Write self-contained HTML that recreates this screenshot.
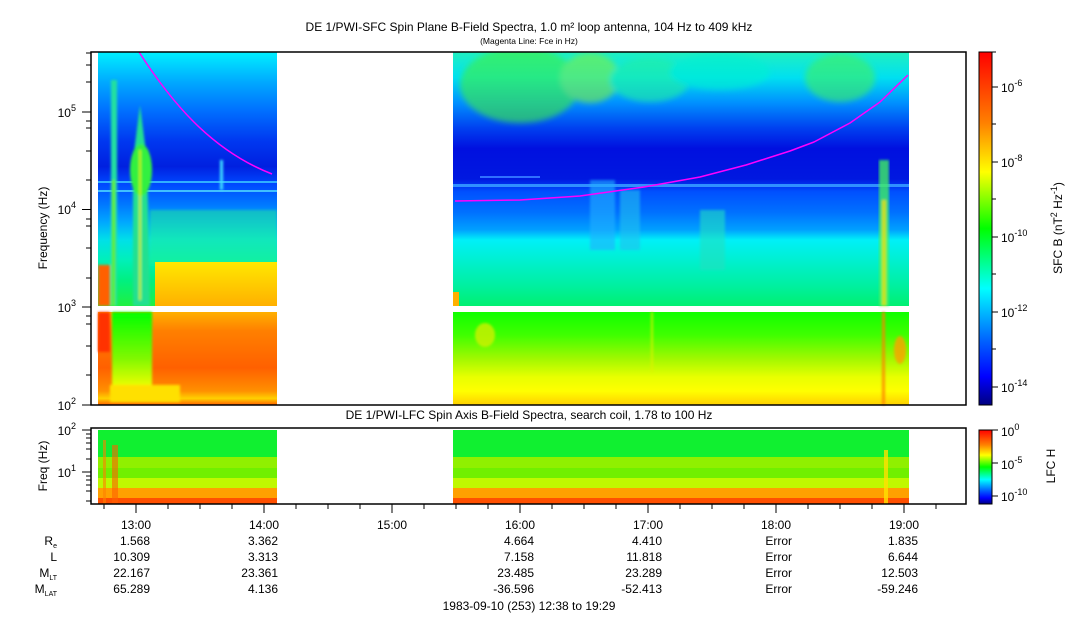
<!DOCTYPE html>
<html><head><meta charset="utf-8"><style>
html,body{margin:0;padding:0;background:#fff}
svg{display:block}
text{font-family:"Liberation Sans",sans-serif;fill:#000}
</style></head><body>
<svg width="1083" height="620" viewBox="0 0 1083 620" xmlns="http://www.w3.org/2000/svg">
<defs>
<linearGradient id="lu" x1="0" y1="52" x2="0" y2="306" gradientUnits="userSpaceOnUse">
<stop offset="0" stop-color="#00f0ff"/><stop offset="0.04" stop-color="#00d8ff"/>
<stop offset="0.12" stop-color="#00a8ff"/><stop offset="0.23" stop-color="#0070ff"/>
<stop offset="0.35" stop-color="#0038f0"/><stop offset="0.45" stop-color="#0020e0"/>
<stop offset="0.52" stop-color="#0048ff"/><stop offset="0.6" stop-color="#0078ff"/>
<stop offset="0.67" stop-color="#00a8ff"/><stop offset="0.74" stop-color="#00e0e8"/>
<stop offset="0.82" stop-color="#00f0b8"/><stop offset="0.9" stop-color="#00f080"/>
<stop offset="1" stop-color="#20f040"/></linearGradient>
<linearGradient id="ru" x1="0" y1="52" x2="0" y2="306" gradientUnits="userSpaceOnUse">
<stop offset="0" stop-color="#20f0c0"/><stop offset="0.1" stop-color="#00e0f0"/>
<stop offset="0.2" stop-color="#0090ff"/><stop offset="0.3" stop-color="#0040f0"/>
<stop offset="0.38" stop-color="#0010e0"/><stop offset="0.5" stop-color="#0018e0"/>
<stop offset="0.55" stop-color="#0050ff"/><stop offset="0.63" stop-color="#0070ff"/>
<stop offset="0.7" stop-color="#00a0ff"/><stop offset="0.74" stop-color="#00f0f8"/>
<stop offset="0.82" stop-color="#00f0d0"/><stop offset="0.92" stop-color="#00f0a0"/>
<stop offset="1" stop-color="#00f070"/></linearGradient>
<linearGradient id="rl" x1="0" y1="312" x2="0" y2="405" gradientUnits="userSpaceOnUse">
<stop offset="0" stop-color="#10ff00"/><stop offset="0.25" stop-color="#40ff00"/>
<stop offset="0.5" stop-color="#a0f800"/><stop offset="0.7" stop-color="#e8ff00"/>
<stop offset="0.85" stop-color="#ffff00"/><stop offset="1" stop-color="#ffd000"/></linearGradient>
<linearGradient id="ll" x1="0" y1="312" x2="0" y2="405" gradientUnits="userSpaceOnUse">
<stop offset="0" stop-color="#ffb000"/><stop offset="0.2" stop-color="#ff8000"/>
<stop offset="0.6" stop-color="#ff6000"/><stop offset="0.85" stop-color="#ff9000"/>
<stop offset="0.93" stop-color="#ffd000"/><stop offset="1" stop-color="#ff6000"/></linearGradient>
<linearGradient id="lg" x1="0" y1="312" x2="0" y2="405" gradientUnits="userSpaceOnUse">
<stop offset="0" stop-color="#00ff00"/><stop offset="0.5" stop-color="#80f800"/>
<stop offset="0.85" stop-color="#ffff00"/><stop offset="1" stop-color="#ffc000"/></linearGradient>
<linearGradient id="ob" x1="0" y1="262" x2="0" y2="306" gradientUnits="userSpaceOnUse">
<stop offset="0" stop-color="#ffe800"/><stop offset="1" stop-color="#ffb000"/></linearGradient>
<linearGradient id="cb" x1="0" y1="52" x2="0" y2="405" gradientUnits="userSpaceOnUse">
<stop offset="0" stop-color="#ff0000"/><stop offset="0.2" stop-color="#ff8000"/>
<stop offset="0.34" stop-color="#ffff00"/><stop offset="0.5" stop-color="#00ff00"/>
<stop offset="0.67" stop-color="#00ffff"/><stop offset="0.82" stop-color="#0060ff"/>
<stop offset="0.92" stop-color="#0000ff"/><stop offset="1" stop-color="#000080"/></linearGradient>
<linearGradient id="cb2" x1="0" y1="430" x2="0" y2="504" gradientUnits="userSpaceOnUse">
<stop offset="0" stop-color="#ff0000"/><stop offset="0.2" stop-color="#ff8000"/>
<stop offset="0.34" stop-color="#ffff00"/><stop offset="0.5" stop-color="#00ff00"/>
<stop offset="0.67" stop-color="#00ffff"/><stop offset="0.82" stop-color="#0060ff"/>
<stop offset="0.92" stop-color="#0000ff"/><stop offset="1" stop-color="#000080"/></linearGradient>
<filter id="bl"><feGaussianBlur stdDeviation="3"/></filter>
<filter id="bl2"><feGaussianBlur stdDeviation="1.2"/></filter>
<clipPath id="ruc"><rect x="453" y="52" width="456" height="254"/></clipPath>
<clipPath id="luc"><rect x="98" y="52" width="179" height="254"/></clipPath>
</defs>

<text x="529" y="31" font-size="12" text-anchor="middle">DE 1/PWI-SFC  Spin Plane B-Field Spectra, 1.0 m² loop antenna, 104 Hz to 409 kHz</text>
<text x="529" y="44" font-size="8.5" text-anchor="middle">(Magenta Line: Fce in Hz)</text>
<text x="529" y="419" font-size="12" text-anchor="middle">DE 1/PWI-LFC  Spin Axis B-Field Spectra, search coil, 1.78 to 100 Hz</text>

<rect x="98" y="52" width="179" height="254" fill="url(#lu)"/>
<rect x="98" y="181" width="179" height="2" fill="#30b0ff"/>
<rect x="98" y="190" width="179" height="2" fill="#40c0ff"/>
<g filter="url(#bl2)" clip-path="url(#luc)">
<rect x="111" y="80" width="6" height="226" fill="#20e0a0"/>
<rect x="112" y="180" width="3" height="126" fill="#60f000"/>
<path d="M133 306 L133 160 L140 105 L147 160 L150 306 Z" fill="#20e090"/>
<ellipse cx="141" cy="170" rx="11" ry="26" fill="#30f040"/>
<rect x="139" y="150" width="2" height="150" fill="#c0f000"/>
<rect x="98" y="265" width="12" height="41" fill="#ff6000"/>
<rect x="220" y="160" width="3" height="30" fill="#40e0ff"/>
<rect x="150" y="210" width="127" height="55" fill="#20f090" opacity="0.5"/>
</g>
<rect x="155" y="262" width="122" height="44" fill="url(#ob)"/>
<rect x="98" y="312" width="179" height="93" fill="url(#ll)"/>
<rect x="112" y="312" width="40" height="80" fill="url(#lg)" filter="url(#bl2)"/>
<rect x="98" y="312" width="12" height="40" fill="#ff3000" filter="url(#bl2)"/>
<rect x="110" y="385" width="70" height="17" fill="#ffe000" filter="url(#bl2)"/>

<rect x="453" y="52" width="456" height="254" fill="url(#ru)"/>
<g filter="url(#bl)" opacity="0.6" clip-path="url(#ruc)">
<ellipse cx="520" cy="85" rx="60" ry="38" fill="#40f040"/>
<ellipse cx="590" cy="78" rx="30" ry="25" fill="#80f040"/>
<ellipse cx="650" cy="80" rx="40" ry="22" fill="#20f0a0"/>
<ellipse cx="720" cy="72" rx="50" ry="18" fill="#00f0d0"/>
<ellipse cx="840" cy="78" rx="35" ry="24" fill="#40f060"/>
</g>
<rect x="453" y="184" width="456" height="3" fill="#3090ff"/>
<rect x="480" y="176" width="60" height="2" fill="#3070ff"/>
<g filter="url(#bl2)" opacity="0.6" clip-path="url(#ruc)">
<rect x="590" y="180" width="25" height="70" fill="#20b0ff"/>
<rect x="620" y="190" width="20" height="60" fill="#20c0f0"/>
<rect x="700" y="210" width="25" height="60" fill="#20e0c0"/>
</g>
<g filter="url(#bl2)">
<rect x="879" y="160" width="10" height="146" fill="#40f060" opacity="0.8"/>
<rect x="882" y="200" width="4" height="106" fill="#f0e000" opacity="0.8"/>
</g>
<rect x="453" y="292" width="6" height="14" fill="#ffb000"/>
<rect x="453" y="312" width="456" height="93" fill="url(#rl)"/>
<g filter="url(#bl2)" opacity="0.8">
<rect x="882" y="312" width="3" height="93" fill="#ff8000"/>
<ellipse cx="900" cy="350" rx="6" ry="14" fill="#ffa000"/>
<ellipse cx="485" cy="335" rx="10" ry="12" fill="#d0f000"/>
<rect x="651" y="312" width="2" height="60" fill="#e0f000"/>
</g>

<path d="M139 52 C170 100,210 150,272 174" fill="none" stroke="#ff00ff" stroke-width="1.5"/>
<polyline points="455,201 520,200 580,196 644,187 700,177 746,165 790,151 814,142 850,123 880,102 908,75" fill="none" stroke="#ff00ff" stroke-width="1.5" stroke-linejoin="round"/>

<rect x="91" y="52" width="875" height="353" fill="none" stroke="#000" stroke-width="1.5"/>
<g stroke="#000" stroke-width="1">
<line x1="82" y1="112" x2="91" y2="112"/><line x1="82" y1="209.5" x2="91" y2="209.5"/><line x1="82" y1="307" x2="91" y2="307"/><line x1="82" y1="405" x2="91" y2="405"/>
<line x1="86" y1="53" x2="91" y2="53"/><line x1="86" y1="65" x2="91" y2="65"/><line x1="86" y1="82" x2="91" y2="82"/>
<line x1="86" y1="121" x2="91" y2="121"/><line x1="86" y1="128" x2="91" y2="128"/><line x1="86" y1="151" x2="91" y2="151"/><line x1="86" y1="180" x2="91" y2="180"/>
<line x1="86" y1="219" x2="91" y2="219"/><line x1="86" y1="226" x2="91" y2="226"/><line x1="86" y1="248" x2="91" y2="248"/><line x1="86" y1="278" x2="91" y2="278"/>
<line x1="86" y1="316" x2="91" y2="316"/><line x1="86" y1="324" x2="91" y2="324"/><line x1="86" y1="346" x2="91" y2="346"/><line x1="86" y1="375" x2="91" y2="375"/>
</g>
<g font-size="12" text-anchor="end">
<text x="76" y="117">10<tspan dy="-6" font-size="9">5</tspan></text>
<text x="76" y="214">10<tspan dy="-6" font-size="9">4</tspan></text>
<text x="76" y="312">10<tspan dy="-6" font-size="9">3</tspan></text>
<text x="76" y="410">10<tspan dy="-6" font-size="9">2</tspan></text>
</g>
<text transform="translate(47,228) rotate(-90)" font-size="12" text-anchor="middle">Frequency (Hz)</text>

<rect x="979" y="52" width="13" height="353" fill="url(#cb)" stroke="#000" stroke-width="1"/>
<g stroke="#000"><line x1="992" y1="87" x2="998" y2="87"/><line x1="992" y1="162" x2="998" y2="162"/><line x1="992" y1="237" x2="998" y2="237"/><line x1="992" y1="312" x2="998" y2="312"/><line x1="992" y1="387" x2="998" y2="387"/>
<line x1="992" y1="124" x2="996" y2="124"/><line x1="992" y1="199" x2="996" y2="199"/><line x1="992" y1="274" x2="996" y2="274"/><line x1="992" y1="349" x2="996" y2="349"/><line x1="992" y1="52" x2="996" y2="52"/></g>
<g font-size="12">
<text x="1001" y="92">10<tspan dy="-6" font-size="9">-6</tspan></text>
<text x="1001" y="167">10<tspan dy="-6" font-size="9">-8</tspan></text>
<text x="1001" y="242">10<tspan dy="-6" font-size="9">-10</tspan></text>
<text x="1001" y="317">10<tspan dy="-6" font-size="9">-12</tspan></text>
<text x="1001" y="392">10<tspan dy="-6" font-size="9">-14</tspan></text>
</g>
<text transform="translate(1062,228) rotate(-90)" font-size="12" text-anchor="middle">SFC B (nT<tspan dy="-5" font-size="9">2</tspan><tspan dy="5"> Hz</tspan><tspan dy="-5" font-size="9">-1</tspan><tspan dy="5">)</tspan></text>

<g>
<rect x="98" y="430" width="179" height="27" fill="#10f030"/>
<rect x="98" y="457" width="179" height="11" fill="#90f000"/>
<rect x="98" y="468" width="179" height="10" fill="#70f000"/>
<rect x="98" y="478" width="179" height="10" fill="#c0f800"/>
<rect x="98" y="488" width="179" height="10" fill="#ffa000"/>
<rect x="98" y="498" width="179" height="6" fill="#ff5000"/>
<rect x="453" y="430" width="456" height="27" fill="#10f030"/>
<rect x="453" y="457" width="456" height="11" fill="#90f000"/>
<rect x="453" y="468" width="456" height="10" fill="#70f000"/>
<rect x="453" y="478" width="456" height="10" fill="#c0f800"/>
<rect x="453" y="488" width="456" height="10" fill="#ffa000"/>
<rect x="453" y="498" width="456" height="6" fill="#ff5000"/>
<rect x="103" y="440" width="3" height="64" fill="#ff8000" opacity="0.6"/>
<rect x="112" y="445" width="6" height="59" fill="#ff6000" opacity="0.6"/>
<rect x="884" y="450" width="4" height="54" fill="#ffe000" opacity="0.8"/>
</g>
<rect x="91" y="428" width="875" height="76" fill="none" stroke="#000" stroke-width="1.5"/>
<g stroke="#000"><line x1="82" y1="430" x2="91" y2="430"/><line x1="82" y1="472" x2="91" y2="472"/>
<line x1="86" y1="434" x2="91" y2="434"/><line x1="86" y1="438" x2="91" y2="438"/><line x1="86" y1="443" x2="91" y2="443"/><line x1="86" y1="449" x2="91" y2="449"/><line x1="86" y1="459" x2="91" y2="459"/>
<line x1="86" y1="476" x2="91" y2="476"/><line x1="86" y1="480" x2="91" y2="480"/><line x1="86" y1="485" x2="91" y2="485"/><line x1="86" y1="491" x2="91" y2="491"/><line x1="86" y1="501" x2="91" y2="501"/></g>
<g font-size="12" text-anchor="end">
<text x="76" y="435">10<tspan dy="-6" font-size="9">2</tspan></text>
<text x="76" y="477">10<tspan dy="-6" font-size="9">1</tspan></text>
</g>
<text transform="translate(47,466) rotate(-90)" font-size="12" text-anchor="middle">Freq (Hz)</text>

<rect x="979" y="430" width="13" height="74" fill="url(#cb2)" stroke="#000" stroke-width="1"/>
<g stroke="#000"><line x1="992" y1="430" x2="998" y2="430"/><line x1="992" y1="463" x2="998" y2="463"/><line x1="992" y1="496" x2="998" y2="496"/></g>
<g font-size="12">
<text x="1001" y="436">10<tspan dy="-6" font-size="9">0</tspan></text>
<text x="1001" y="469">10<tspan dy="-6" font-size="9">-5</tspan></text>
<text x="1001" y="501">10<tspan dy="-6" font-size="9">-10</tspan></text>
</g>
<text transform="translate(1055,466) rotate(-90)" font-size="12" text-anchor="middle">LFC H</text>

<g stroke="#000">
<line x1="136" y1="504" x2="136" y2="513"/><line x1="264" y1="504" x2="264" y2="513"/><line x1="392" y1="504" x2="392" y2="513"/><line x1="520" y1="504" x2="520" y2="513"/><line x1="648" y1="504" x2="648" y2="513"/><line x1="776" y1="504" x2="776" y2="513"/><line x1="904" y1="504" x2="904" y2="513"/>
<line x1="104" y1="504" x2="104" y2="509"/><line x1="168" y1="504" x2="168" y2="509"/><line x1="200" y1="504" x2="200" y2="509"/><line x1="232" y1="504" x2="232" y2="509"/>
<line x1="296" y1="504" x2="296" y2="509"/><line x1="328" y1="504" x2="328" y2="509"/><line x1="360" y1="504" x2="360" y2="509"/>
<line x1="424" y1="504" x2="424" y2="509"/><line x1="456" y1="504" x2="456" y2="509"/><line x1="488" y1="504" x2="488" y2="509"/>
<line x1="552" y1="504" x2="552" y2="509"/><line x1="584" y1="504" x2="584" y2="509"/><line x1="616" y1="504" x2="616" y2="509"/>
<line x1="680" y1="504" x2="680" y2="509"/><line x1="712" y1="504" x2="712" y2="509"/><line x1="744" y1="504" x2="744" y2="509"/>
<line x1="808" y1="504" x2="808" y2="509"/><line x1="840" y1="504" x2="840" y2="509"/><line x1="872" y1="504" x2="872" y2="509"/><line x1="936" y1="504" x2="936" y2="509"/>
</g>
<g font-size="12" text-anchor="middle">
<text x="136" y="529">13:00</text><text x="264" y="529">14:00</text><text x="392" y="529">15:00</text><text x="520" y="529">16:00</text><text x="648" y="529">17:00</text><text x="776" y="529">18:00</text><text x="904" y="529">19:00</text>
</g>
<g font-size="12" text-anchor="end">
<text x="57" y="545">R<tspan dy="3" font-size="7">e</tspan></text>
<text x="57" y="561">L</text>
<text x="57" y="577">M<tspan dy="3" font-size="7">LT</tspan></text>
<text x="57" y="593">M<tspan dy="3" font-size="7">LAT</tspan></text>
<text x="150" y="545">1.568</text><text x="150" y="561">10.309</text><text x="150" y="577">22.167</text><text x="150" y="593">65.289</text>
<text x="278" y="545">3.362</text><text x="278" y="561">3.313</text><text x="278" y="577">23.361</text><text x="278" y="593">4.136</text>
<text x="534" y="545">4.664</text><text x="534" y="561">7.158</text><text x="534" y="577">23.485</text><text x="534" y="593">-36.596</text>
<text x="662" y="545">4.410</text><text x="662" y="561">11.818</text><text x="662" y="577">23.289</text><text x="662" y="593">-52.413</text>
<text x="792" y="545">Error</text><text x="792" y="561">Error</text><text x="792" y="577">Error</text><text x="792" y="593">Error</text>
<text x="918" y="545">1.835</text><text x="918" y="561">6.644</text><text x="918" y="577">12.503</text><text x="918" y="593">-59.246</text>
</g>
<text x="529" y="610" font-size="12" text-anchor="middle">1983-09-10 (253) 12:38 to 19:29</text>
</svg>
</body></html>
